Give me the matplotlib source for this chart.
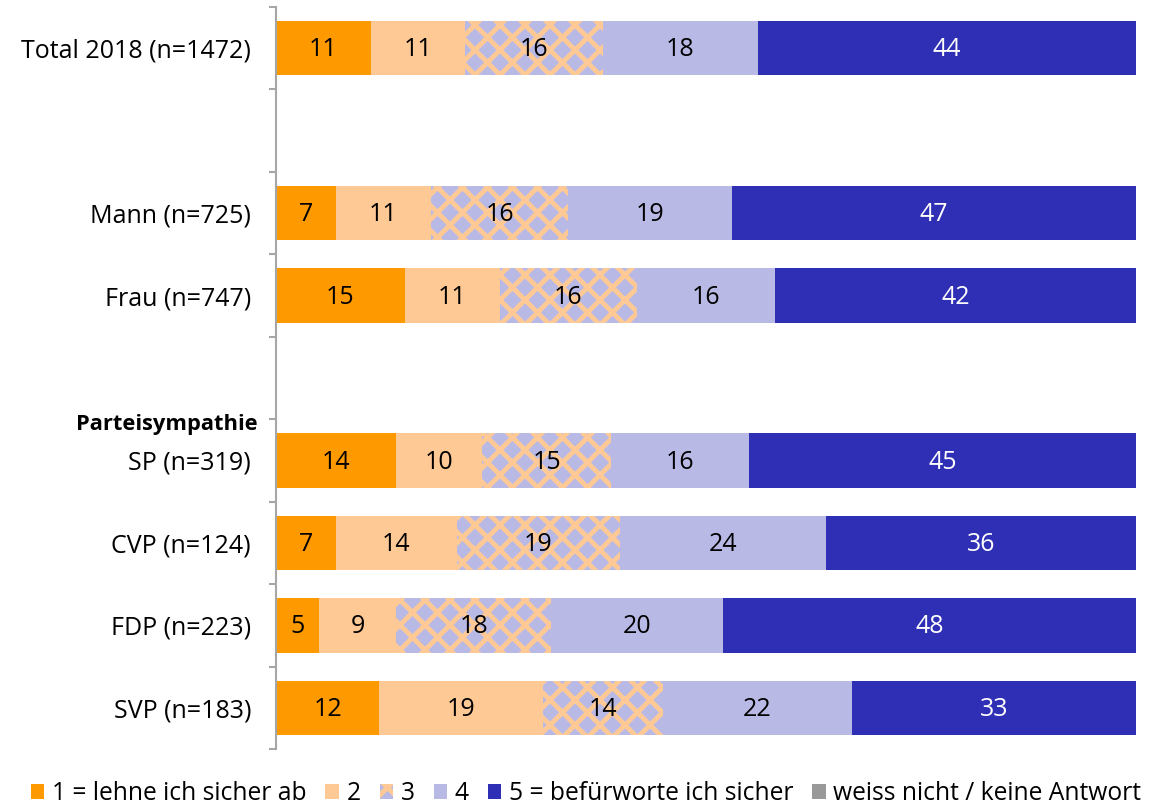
import matplotlib
matplotlib.use("Agg")
import matplotlib.pyplot as plt
from matplotlib.patches import Patch
from matplotlib import transforms
import numpy as np

plt.rcParams['font.family'] = ['Open Sans', 'DejaVu Sans']
plt.rcParams['hatch.linewidth'] = 2.3

# rows from top to bottom, '' = spacer row
labels = ['Total 2018 (n=1472)', '', 'Mann (n=725)', 'Frau (n=747)', '',
          'SP (n=319)', 'CVP (n=124)', 'FDP (n=223)', 'SVP (n=183)']
v1 = [11, 0, 7, 15, 0, 14, 7, 5, 12]
v2 = [11, 0, 11, 11, 0, 10, 14, 9, 19]
v3 = [16, 0, 16, 16, 0, 15, 19, 18, 14]
v4 = [18, 0, 19, 16, 0, 16, 24, 20, 22]
v5 = [44, 0, 47, 42, 0, 45, 36, 48, 33]
v6 = [0, 0, 0, 0, 0, 0, 0, 0, 0]

series = [v1, v2, v3, v4, v5, v6]
names = ['1 = lehne ich sicher ab', '2', '3', '4',
         '5 = befürworte ich sicher', 'weiss nicht / keine Antwort']
colors = ['#FF9900', '#FFC996', '#B9B9E6', '#B9B9E6', '#2F2FB6', '#999999']
hatches = [None, None, 'xx', None, None, None]
txtcol = ['black', 'black', 'black', 'black', 'white', 'white']
fs = 12

fig = plt.figure(figsize=(1149/150, 806/150), dpi=150)
ax = fig.add_axes([276/1149, 1 - 749/806, (1136 - 276)/1149, (749 - 7)/806])

y = np.arange(len(labels))
left = np.zeros(len(labels))
for s, name, c, h, tc in zip(series, names, colors, hatches, txtcol):
    vals = np.array(s, dtype=float)
    if h:
        bars = ax.barh(y, vals, left=left, height=0.66, color=c,
                       edgecolor='#FFC996', hatch=h, linewidth=0)
    else:
        bars = ax.barh(y, vals, left=left, height=0.66, color=c, linewidth=0)
    for b, v in zip(bars, vals):
        if v > 0:
            ax.text(b.get_x() + b.get_width()/2, b.get_y() + b.get_height()/2 + 0.02,
                    f'{v:.0f}', ha='center', va='center', fontsize=fs,
                    color=tc)
    left += vals

ax.set_xlim(0, 100)
ax.set_ylim(len(labels) - 0.5, -0.5)
ax.set_yticks(y)
ax.set_yticklabels(labels, fontsize=fs)
ax.set_yticks(np.arange(-0.5, len(labels)), minor=True)
ax.tick_params(axis='y', which='major', length=0, pad=12)
ax.tick_params(axis='y', which='minor', length=3.4, width=1, color='#A6A6A6')
ax.set_xticks([])
for sp in ['top', 'right', 'bottom']:
    ax.spines[sp].set_visible(False)
ax.spines['left'].set_color('#A6A6A6')
ax.spines['left'].set_linewidth(1)

trans = transforms.blended_transform_factory(fig.transFigure, ax.transData)
ax.text(258/1149, 4.57, 'Parteisympathie', transform=trans, ha='right',
        va='center', fontsize=10.5, fontweight='bold')

handles = [Patch(facecolor=c, edgecolor='#FFC996' if h else c, hatch=h,
                 linewidth=0) for c, h in zip(colors, hatches)]
fig.legend(handles, names, loc='lower center', ncol=6, frameon=False,
           bbox_to_anchor=(0.51, -0.028), fontsize=11.8, handlelength=0.55,
           handleheight=0.55, handletextpad=0.3, columnspacing=0.78)

fig.savefig('out.png', dpi=150)
